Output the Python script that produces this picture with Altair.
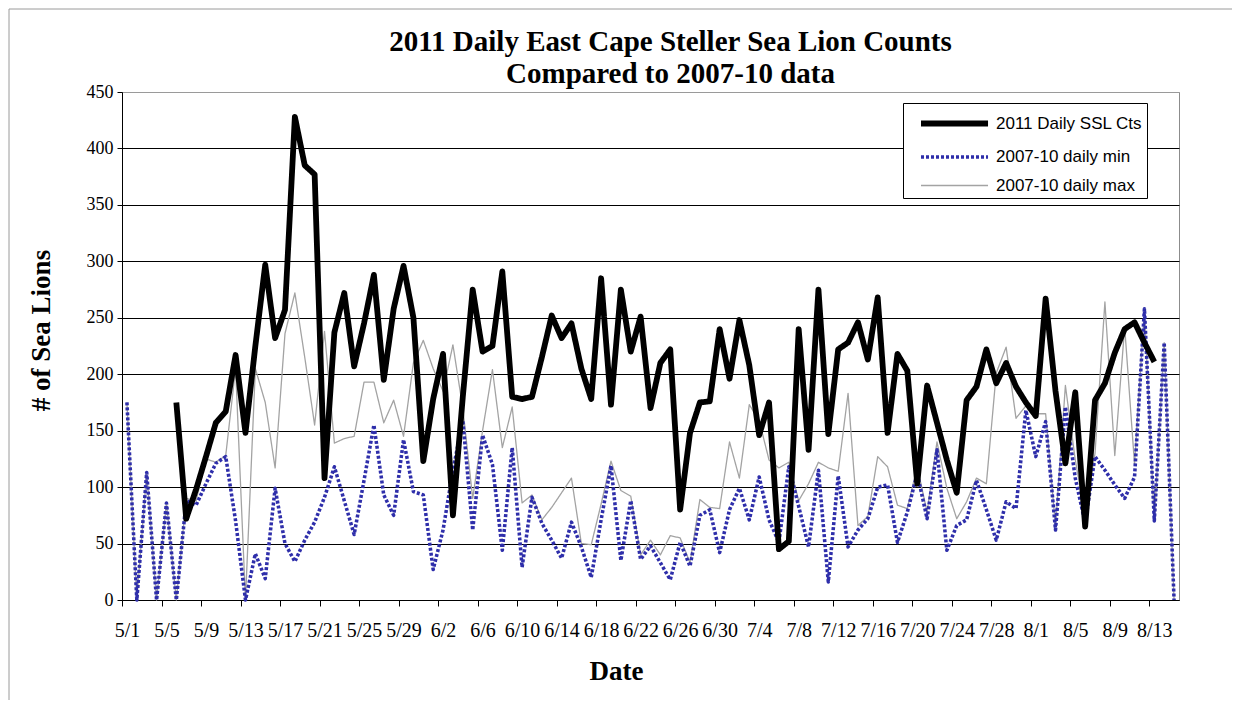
import altair as alt
import pandas as pd

# Categories: one per day, 5/1 .. 8/15 (2011)
dates = [f"{d.month}/{d.day}" for d in pd.date_range("2011-05-01", "2011-08-15")]
x_tick_labels = dates[::4]
y_ticks = [0, 50, 100, 150, 200, 250, 300, 350, 400, 450]
series_names = ["2011 Daily SSL Cts", "2007-10 daily min", "2007-10 daily max"]

N = None
counts_2011 = [
    N, N, N, N, N, 175, 72, 98, 127, 157,
    167, 217, 148, 225, 297, 232, 257, 428, 385, 377,
    108, 237, 272, 207, 245, 288, 195, 258, 296, 250,
    123, 178, 218, 75, 180, 275, 220, 225, 291, 180,
    178, 180, 215, 252, 232, 245, 205, 178, 285, 173,
    275, 220, 251, 170, 210, 222, 80, 148, 175, 176,
    240, 196, 248, 208, 146, 175, 45, 52, 240, 133,
    275, 147, 222, 228, 246, 213, 268, 148, 218, 203,
    103, 190, 157, 124, 95, 177, 189, 222, 192, 210,
    189, 175, 163, 267, 185, 121, 184, 65, 177, 192,
    219, 240, 246, 228, 211, N, N,
]
min_0710 = [
    175, 0, 113, 0, 86, 0, 88, 84, 103, 121,
    127, 70, 0, 41, 19, 99, 50, 34, 53, 69,
    91, 118, 88, 58, 106, 155, 93, 75, 142, 96,
    93, 27, 62, 115, 159, 62, 146, 120, 44, 135,
    29, 91, 68, 53, 37, 69, 47, 20, 71, 119,
    35, 88, 36, 48, 33, 18, 51, 30, 75, 80,
    42, 80, 99, 71, 109, 71, 51, 118, 83, 47,
    115, 16, 110, 47, 62, 72, 100, 102, 51, 78,
    112, 72, 133, 44, 66, 71, 106, 80, 53, 87,
    81, 168, 127, 158, 62, 171, 108, 68, 127, 115,
    102, 90, 109, 258, 70, 228, 0,
]
max_0710 = [
    175, 0, 113, 0, 86, 0, 90, 88, 125, 122,
    128, 205, 0, 205, 175, 117, 236, 272, 215, 155,
    238, 139, 143, 145, 193, 193, 157, 177, 145, 210,
    230, 205, 185, 226, 170, 90, 150, 204, 135, 171,
    86, 93, 71, 82, 95, 108, 50, 49, 85, 123,
    97, 92, 40, 53, 40, 57, 55, 33, 89, 82,
    81, 140, 108, 173, 159, 124, 117, 122, 88, 103,
    122, 117, 114, 183, 66, 74, 127, 118, 84, 81,
    118, 78, 140, 99, 72, 87, 108, 103, 201, 224,
    161, 172, 165, 165, 65, 190, 124, 75, 130, 264,
    128, 242, 120, 258, 70, 228, 0,
]

rows = []
for name, vals in zip(series_names, [counts_2011, min_0710, max_0710]):
    for i, (d, v) in enumerate(zip(dates, vals)):
        if v is not None:
            rows.append({"date": d, "idx": i, "series": name, "count": v})
df = pd.DataFrame(rows)

W, H = 1057, 508
step = W / len(dates)

legend = alt.Legend(
    title=None, orient="none", legendX=781, legendY=11,
    padding=4, rowPadding=5.5, symbolSize=729,
    symbolType="M-0.185,0L4.78,0", labelOffset=56,
    labelFont="Liberation Sans", labelFontSize=17, labelColor="#000",
    fillColor="white", strokeColor="black",
)

color = alt.Color("series:N", scale=alt.Scale(domain=series_names, range=["#000000", "#2e2eaa", "#a3a3a3"]), legend=legend)
dash = alt.StrokeDash("series:N", scale=alt.Scale(domain=series_names, range=[[1, 0], [3, 2], [1, 0]]), legend=legend)
swidth = alt.StrokeWidth("series:N", scale=alt.Scale(domain=series_names, range=[5.8, 1.3, 1.3]), legend=legend)

x = alt.X(
    "date:O", sort=dates, scale=alt.Scale(type="point", padding=0.5),
    axis=alt.Axis(
        values=x_tick_labels, labelAngle=0, tickOffset=-step / 2, labelOffset=step / 2,
        title="Date", grid=False, labelOverlap=False, tickSize=6, tickColor="#000",
        domainColor="#000", labelFont="Liberation Serif", labelFontSize=20, labelColor="#000",
        labelPadding=14, titleFont="Liberation Serif", titleFontSize=27, titleFontWeight="bold",
        titleColor="#000", titlePadding=18, titleX=494,
    ),
)
y = alt.Y(
    "count:Q", scale=alt.Scale(domain=[0, 450], nice=False),
    axis=alt.Axis(
        values=y_ticks, title="# of Sea Lions", grid=True,
        gridColor={"condition": {"test": "datum.value === 450", "value": "#9a9a9a"}, "value": "#000000"},
        gridWidth=1.2, tickSize=5, tickColor="#000", domainColor="#000",
        labelFont="Liberation Serif", labelFontSize=18, labelColor="#000", labelPadding=4,
        titleFont="Liberation Serif", titleFontSize=27, titleFontWeight="bold",
        titleColor="#000", titlePadding=31, titleY=238,
    ),
)

base = alt.Chart(df)
layers = []
for name in [series_names[2], series_names[1], series_names[0]]:
    layers.append(
        base.transform_filter(alt.datum.series == name)
        .mark_line(strokeJoin="round", strokeCap="butt")
        .encode(x=x, y=y, color=color, strokeDash=dash, strokeWidth=swidth, detail="series:N")
    )

frame = alt.Chart(pd.DataFrame({"k": [0]})).mark_rect(
    fillOpacity=0, stroke="#9a9a9a", strokeWidth=1
).encode(x=alt.value(-113), x2=alt.value(1117), y=alt.value(-83), y2=alt.value(615))

chart = (
    alt.layer(frame, *layers)
    .properties(
        width=W, height=H,
        title=alt.TitleParams(
            text=["2011 Daily East Cape Steller Sea Lion Counts", "Compared to 2007-10 data"],
            font="Liberation Serif", fontSize=29, fontWeight="bold", color="#000",
            anchor="middle", dx=20, lineHeight=32, offset=-80,
        ),
        autosize=alt.AutoSizeParams(type="none"),
        padding={"left": 114, "top": 84, "right": 53, "bottom": 100},
        background="white",
    )
    .configure_view(stroke="#8c8c8c", strokeWidth=1)
)

chart.save("out.html", embed_options={"renderer": "svg", "actions": False})
